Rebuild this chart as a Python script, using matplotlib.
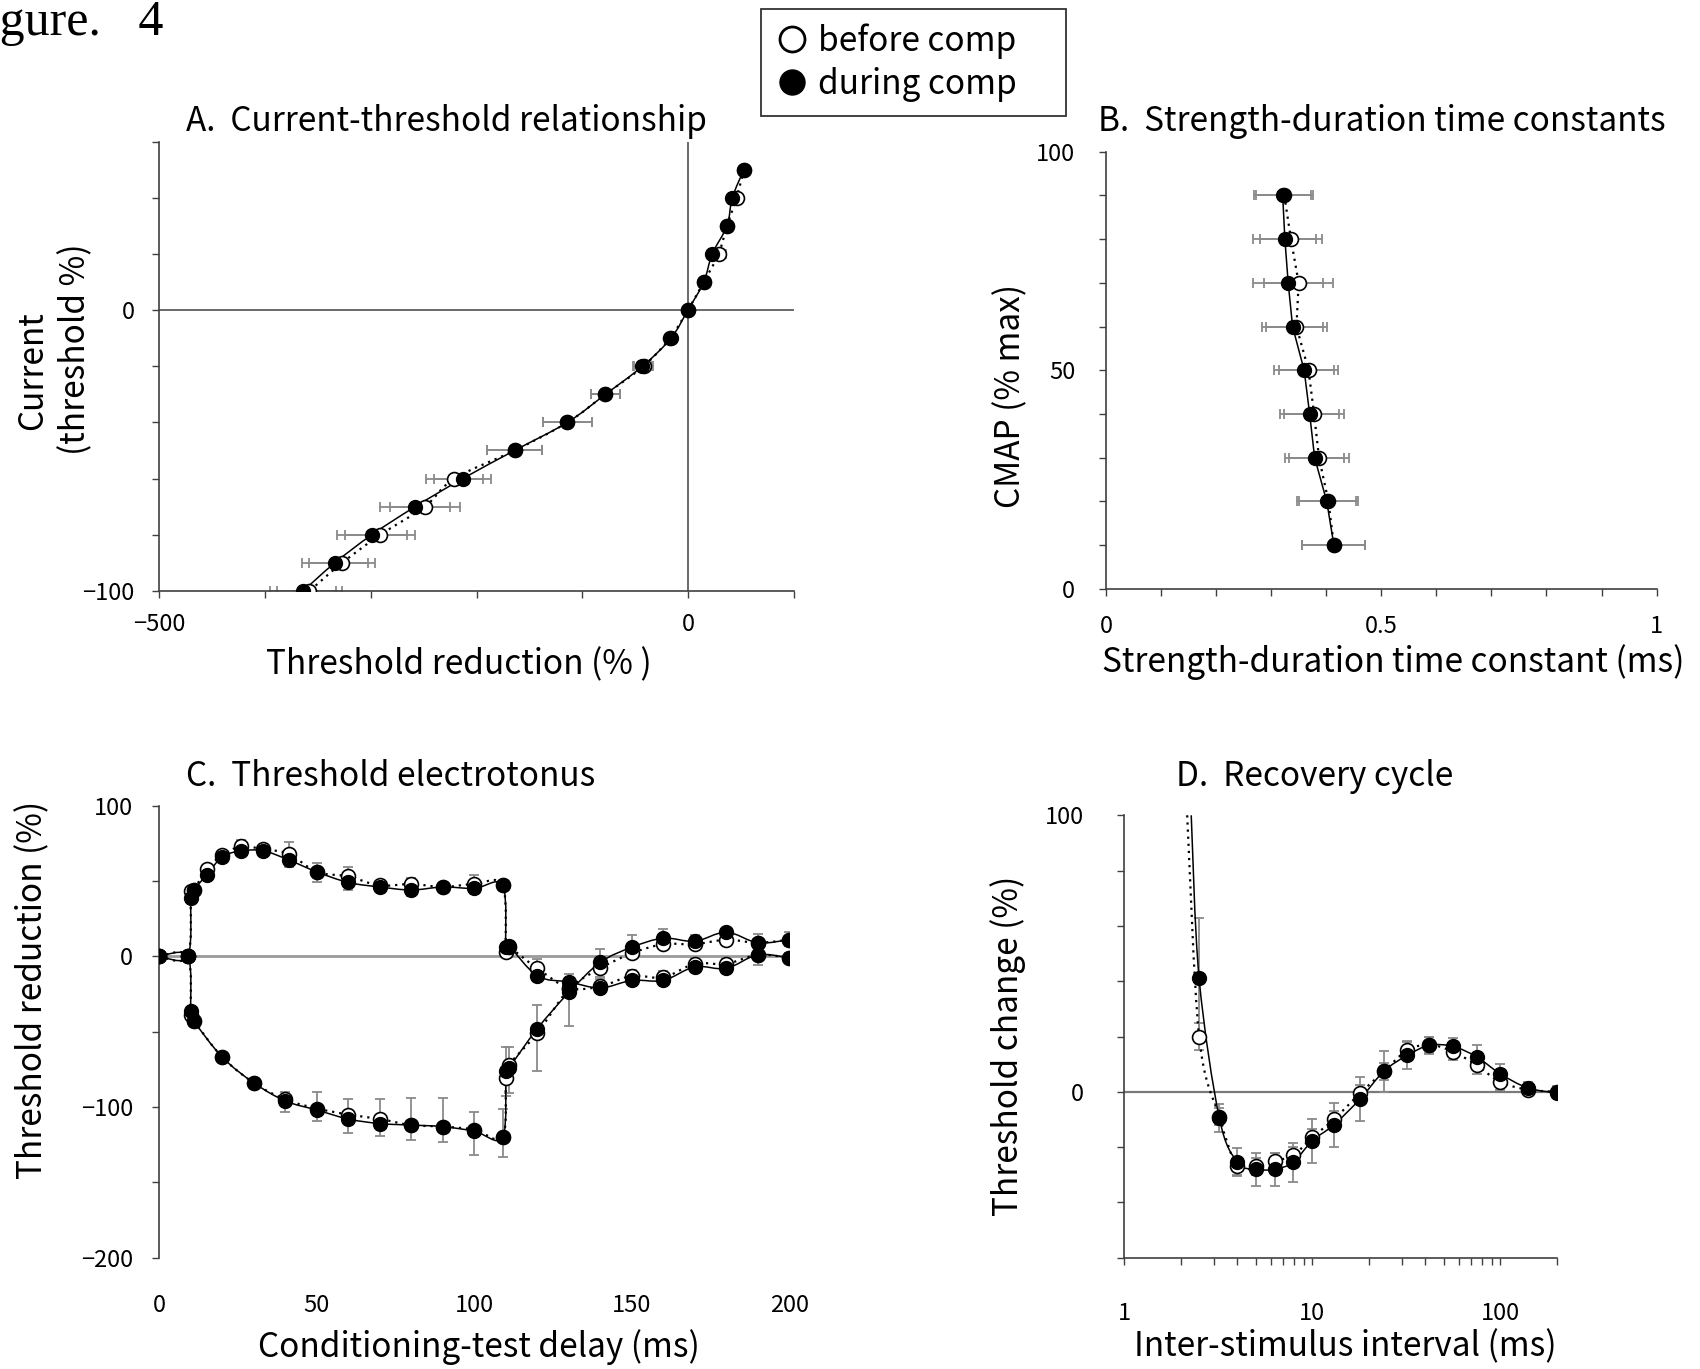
import numpy as np
import matplotlib
matplotlib.use("Agg")
import matplotlib.pyplot as plt
from matplotlib.path import Path
from matplotlib.patches import PathPatch
from matplotlib.lines import Line2D

plt.rcParams['font.family'] = ['Noto Sans CJK JP', 'DejaVu Sans']

# ---------------- data ----------------
# A. Current-threshold relationship
a_current = [50, 40, 30, 20, 10, 0, -10, -20, -30, -40, -50, -60, -70, -80, -90, -100]
a_before = [53, 46, 37, 29, 15, 0, -17, -42, -78, -114, -164, -221, -249, -291, -327, -358]
a_during = [53, 42, 37, 23, 15, 0, -16, -43, -78, -114, -164, -213, -258, -299, -334, -364]
a_before_err = [3, 5, 3, 7, 2, 2, 3, 9, 14, 23, 26, 27, 33, 33, 31, 31]
a_during_err = [2, 2, 2, 2, 2, 2, 3, 9, 14, 23, 26, 27, 33, 33, 31, 31]

# B. Strength-duration time constants
b_cmap = [90, 80, 70, 60, 50, 40, 30, 20, 10]
b_before = [0.324, 0.336, 0.350, 0.346, 0.368, 0.378, 0.387, 0.404, 0.414]
b_during = [0.321, 0.325, 0.331, 0.339, 0.360, 0.370, 0.379, 0.401, 0.414]
b_err = [0.052, 0.057, 0.063, 0.056, 0.054, 0.054, 0.054, 0.054, 0.057]

# C. Threshold electrotonus
c_dep_delay = [0, 9, 10, 11, 15, 20, 26, 33, 41, 50, 60, 70, 80, 90, 100, 109, 110, 111,
               120, 130, 140, 150, 160, 170, 180, 190, 200]
c_dep_before = [0, 0, 43, 44, 58, 67, 73, 71, 68, 56, 53, 47, 48, 46, 48, 47, 3, 6,
                -8, -21, -20, -13, -14, -5, -5, 1, -1]
c_dep_during = [0, 0, 39, 44, 54, 66, 70, 70, 64, 56, 49, 46, 44, 46, 45, 47, 6, 7,
                -13, -17, -21, -16, -16, -7, -8, 1, -1]
c_dep_before_up = [0, 0, 0, 3, 2, 2, 4, 2, 8, 6, 6, 3, 4, 2, 6, 2, 2, 2, 6, 5, 5, 4, 4, 4, 3, 3, 3]
c_dep_during_dn = [0, 0, 0, 0, 0, 0, 0, 0, 5, 7, 5, 2, 4, 2, 3, 2, 0, 0, 3, 3, 3, 3, 3, 3, 3, 7, 3]

c_hyp_delay = [0, 9, 10, 11, 20, 30, 40, 50, 60, 70, 80, 90, 100, 109, 110, 111,
               120, 130, 140, 150, 160, 170, 180, 190, 200]
c_hyp_before = [0, 0, -39, -43, -67, -84, -95, -101, -105, -108, -112, -113, -115, -120, -81, -72,
                -51, -22, -8, 2, 8, 8, 11, 9, 11]
c_hyp_during = [0, 0, -36, -43, -67, -84, -96, -102, -108, -111, -112, -113, -116, -120, -76, -74,
                -48, -24, -4, 6, 12, 10, 16, 9, 11]
c_hyp_before_up = [0, 0, 0, 0, 0, 0, 5, 11, 10, 13, 18, 19, 12, 19, 21, 12, 19, 10, 13, 12, 10, 6, 7, 6, 5]
c_hyp_during_dn = [0, 0, 0, 0, 0, 0, 7, 7, 9, 8, 10, 10, 16, 13, 17, 17, 28, 22, 10, 6, 5, 4, 4, 4, 4]

# D. Recovery cycle
d_isi = [2.5, 3.2, 4, 5, 6.3, 7.9, 10, 13, 18, 24, 32, 42, 56, 75, 100, 140, 200]
d_before = [20, -9, -27, -27, -25, -23, -16.5, -10, -0.5, 7.4, 15, 17, 14.5, 9.6, 3.5, 0.8, 0]
d_during = [41, -9.4, -25.5, -28, -28, -25.5, -17.7, -12, -2.5, 7.4, 13.2, 16.8, 16.4, 12.6, 6.5, 1.4, -0.4]
d_before_err = [5, 3, 3, 3, 3, 3, 3, 3, 3, 3, 3, 3, 3, 3, 3, 2, 2]
d_during_err = [22, 5, 5, 6, 6, 7, 8, 8, 8, 7.5, 5, 3, 3, 4.5, 3.6, 2, 2]
# where the fitted curves leave the top of the panel (ISI, value)
d_before_line_start = (2.16, 100)
d_during_line_start = (2.27, 100)

# tick labels
a_xticks = [-500, -400, -300, -200, -100, 0, 100]
a_xticklabels = ['\u2212500', '', '', '', '', '0', '']
a_yticks = [-100, -80, -60, -40, -20, 0, 20, 40, 60]
a_yticklabels = ['\u2212100', '', '', '', '', '0', '', '', '']
b_xticks = [0, 0.1, 0.2, 0.3, 0.4, 0.5, 0.6, 0.7, 0.8, 0.9, 1.0]
b_xticklabels = ['0', '', '', '', '', '0.5', '', '', '', '', '1']
b_yticks = [0, 10, 20, 30, 40, 50, 60, 70, 80, 90, 100]
b_yticklabels = ['0', '', '', '', '', '50', '', '', '', '', '100']
c_xticks = [0, 50, 100, 150, 200]
c_xticklabels = ['0', '50', '100', '150', '200']
c_yticks = [-200, -150, -100, -50, 0, 50, 100]
c_yticklabels = ['\u2212200', '', '\u2212100', '', '0', '', '100']
d_xticks = [1, 10, 100]
d_xticklabels = ['1', '10', '100']
d_yticks = [-60, -40, -20, 0, 20, 40, 60, 80, 100]
d_yticklabels = ['', '', '', '0', '', '', '', '', '100']

# ---------------- figure ----------------
W, H = 1700, 1369
fig = plt.figure(figsize=(W / 100, H / 100), dpi=100)

def axes_px(l, r, t, b):
    return fig.add_axes([l / W, 1 - b / H, (r - l) / W, (b - t) / H])

axA = axes_px(159.4, 793.6, 141.6, 590.9)
axB = axes_px(1105.9, 1656.6, 151.8, 588.7)
axC = axes_px(159.4, 789.3, 805.6, 1257.7)
axD = axes_px(1124.3, 1556.9, 815.3, 1257.7)

SPINE = '#404040'
ERR = '#8a8a8a'
TICKFS = 17
LABELFS = 24


def smooth_line(ax, x, y, logx=False, **kw):
    """Excel-like smoothed line (Catmull-Rom Bezier) through data points."""
    x = np.asarray(x, float)
    y = np.asarray(y, float)
    X = np.log10(x) if logx else x
    xl = ax.get_xlim()
    xl = (np.log10(xl[0]), np.log10(xl[1])) if logx else xl
    yl = ax.get_ylim()
    bb = ax.get_position()
    sx = bb.width * W / (xl[1] - xl[0])
    sy = bb.height * H / (yl[1] - yl[0])
    P = np.column_stack([X * sx, y * sy])
    n = len(P)
    verts = [P[0]]
    codes = [Path.MOVETO]
    for i in range(n - 1):
        p0 = P[max(i - 1, 0)]
        p1 = P[i]
        p2 = P[i + 1]
        p3 = P[min(i + 2, n - 1)]
        c1 = p1 + (p2 - p0) / 6.0
        c2 = p2 - (p3 - p1) / 6.0
        verts += [c1, c2, p2]
        codes += [Path.CURVE4] * 3
    V = np.array(verts)
    V[:, 0] /= sx
    V[:, 1] /= sy
    if logx:
        V[:, 0] = 10 ** V[:, 0]
    patch = PathPatch(Path(V, codes), fill=False, **kw)
    ax.add_patch(patch)
    return patch


def style_axes(ax):
    for s in ['top', 'right']:
        ax.spines[s].set_visible(False)
    for s in ['left', 'bottom']:
        ax.spines[s].set_color(SPINE)
        ax.spines[s].set_linewidth(1.2)
    ax.tick_params(direction='out', length=5, width=1.0, color=SPINE,
                   labelsize=TICKFS, labelcolor='black')


solid_kw = dict(color='black', lw=1.1, zorder=3)
dot_kw = dict(color='black', lw=1.6, linestyle=(0, (1, 2.2)), zorder=3)
open_kw = dict(marker='o', ms=10, mfc='white', mec='black', mew=1.2, ls='none', zorder=4)
fill_kw = dict(marker='o', ms=10, mfc='black', mec='black', mew=1.0, ls='none', zorder=5)
err_kw = dict(fmt='none', ecolor=ERR, elinewidth=1.3, capsize=3.5, capthick=1.3, zorder=2)

# ---------------- A ----------------
ax = axA
style_axes(ax)
ax.set_xlim(-500, 100)
ax.set_ylim(-100, 60)
ax.axhline(0, color='#505050', lw=1.2, zorder=1)
ax.axvline(0, color='#505050', lw=1.2, zorder=1)
ax.errorbar(a_before, a_current, xerr=a_before_err, **err_kw)
ax.errorbar(a_during, a_current, xerr=a_during_err, **err_kw)
smooth_line(ax, a_before, a_current, **dot_kw)
smooth_line(ax, a_during, a_current, **solid_kw)
ax.plot(a_before, a_current, **open_kw)
ax.plot(a_during, a_current, **fill_kw)
ax.set_xticks(a_xticks)
ax.set_xticklabels(a_xticklabels)
ax.set_yticks(a_yticks)
ax.set_yticklabels(a_yticklabels)
ax.tick_params(axis='x', pad=11)
ax.tick_params(axis='y', pad=13)

# ---------------- B ----------------
ax = axB
style_axes(ax)
ax.set_xlim(0, 1)
ax.set_ylim(0, 100)
ax.errorbar(b_before, b_cmap, xerr=b_err, **err_kw)
ax.errorbar(b_during, b_cmap, xerr=b_err, **err_kw)
ax.plot(b_before, b_cmap, **dot_kw)
ax.plot(b_during, b_cmap, **solid_kw)
ax.plot(b_before, b_cmap, **open_kw)
ax.plot(b_during, b_cmap, **fill_kw)
ax.set_xticks(b_xticks)
ax.set_xticklabels(b_xticklabels)
ax.set_yticks(b_yticks)
ax.set_yticklabels(b_yticklabels)
ax.tick_params(axis='x', pad=14)
ax.tick_params(axis='y', pad=17)

# ---------------- C ----------------
ax = axC
style_axes(ax)
ax.spines['bottom'].set_visible(False)
ax.set_xlim(0, 200)
ax.set_ylim(-200, 100)
ax.axhline(0, color='#9a9a9a', lw=2.0, zorder=1)
zeros = lambda n: [0] * n
ax.errorbar(c_dep_delay, c_dep_before, yerr=[zeros(len(c_dep_delay)), c_dep_before_up], **err_kw)
ax.errorbar(c_dep_delay, c_dep_during, yerr=[c_dep_during_dn, zeros(len(c_dep_delay))], **err_kw)
ax.errorbar(c_hyp_delay, c_hyp_before, yerr=[zeros(len(c_hyp_delay)), c_hyp_before_up], **err_kw)
ax.errorbar(c_hyp_delay, c_hyp_during, yerr=[c_hyp_during_dn, zeros(len(c_hyp_delay))], **err_kw)
smooth_line(ax, c_dep_delay, c_dep_before, **dot_kw)
smooth_line(ax, c_hyp_delay, c_hyp_before, **dot_kw)
smooth_line(ax, c_dep_delay, c_dep_during, **solid_kw)
smooth_line(ax, c_hyp_delay, c_hyp_during, **solid_kw)
ax.plot(c_dep_delay, c_dep_before, **open_kw)
ax.plot(c_hyp_delay, c_hyp_before, **open_kw)
ax.plot(c_dep_delay, c_dep_during, **fill_kw)
ax.plot(c_hyp_delay, c_hyp_during, **fill_kw)
ax.set_xticks(c_xticks)
ax.set_xticklabels(c_xticklabels)
ax.set_yticks(c_yticks)
ax.set_yticklabels(c_yticklabels)
ax.tick_params(axis='x', length=0, pad=26)
ax.tick_params(axis='y', pad=14)

# ---------------- D ----------------
ax = axD
style_axes(ax)
ax.set_xscale('log')
ax.set_xlim(1, 200)
ax.set_ylim(-60, 100)
ax.axhline(0, color='#7a7a7a', lw=1.6, zorder=1)
ax.errorbar(d_isi, d_before, yerr=d_before_err, **err_kw)
ax.errorbar(d_isi, d_during, yerr=d_during_err, **err_kw)
smooth_line(ax, [d_before_line_start[0]] + d_isi, [d_before_line_start[1]] + d_before,
            logx=True, **dot_kw)
smooth_line(ax, [d_during_line_start[0]] + d_isi, [d_during_line_start[1]] + d_during,
            logx=True, **solid_kw)
ax.plot(d_isi, d_before, **open_kw)
ax.plot(d_isi, d_during, **fill_kw)
ax.set_xticks(d_xticks)
ax.set_xticklabels(d_xticklabels)
ax.xaxis.set_minor_locator(matplotlib.ticker.LogLocator(base=10, subs=np.arange(2, 10)))
ax.xaxis.set_minor_formatter(matplotlib.ticker.NullFormatter())
ax.tick_params(axis='x', which='minor', direction='out', length=5, width=1.0, color=SPINE)
ax.set_yticks(d_yticks)
ax.set_yticklabels(d_yticklabels)
ax.tick_params(axis='x', which='major', pad=27)
ax.tick_params(axis='y', pad=24)

# ---------------- texts ----------------
def ftext(x, y, s, **kw):
    return fig.text(x / W, 1 - y / H, s, **kw)

ftext(163, 35, 'Figure.   4', ha='right', va='baseline', fontsize=36,
      family=['Liberation Serif'])

ftext(186.5, 121.5, 'A.  Current-threshold relationship', ha='left', va='center', fontsize=LABELFS)
ftext(1098.3, 121.5, 'B.  Strength-duration time constants', ha='left', va='center', fontsize=LABELFS)
ftext(186.5, 776.5, 'C.  Threshold electrotonus', ha='left', va='center', fontsize=LABELFS)
ftext(1176.4, 776.5, 'D.  Recovery cycle', ha='left', va='center', fontsize=LABELFS)

ftext(458.6, 664.5, 'Threshold reduction (% )', ha='center', va='center', fontsize=LABELFS)
ftext(32.5, 371, 'Current', ha='center', va='center', rotation=90, fontsize=LABELFS)
ftext(76, 349, '(threshold %)', ha='center', va='center', rotation=90, fontsize=LABELFS)

ftext(1393, 662, 'Strength-duration time constant (ms)', ha='center', va='center', fontsize=LABELFS)
ftext(1010.5, 396, 'CMAP (% max)', ha='center', va='center', rotation=90, fontsize=LABELFS)

ftext(479, 1347, 'Conditioning-test delay (ms)', ha='center', va='center', fontsize=LABELFS)
ftext(32.5, 990, 'Threshold reduction (%)', ha='center', va='center', rotation=90, fontsize=LABELFS)

ftext(1345.5, 1347, 'Inter-stimulus interval (ms)', ha='center', va='center', fontsize=LABELFS)
ftext(1008, 1046, 'Threshold change (%)', ha='center', va='center', rotation=90, fontsize=LABELFS)

# ---------------- legend ----------------
handles = [Line2D([], [], marker='o', ls='none', ms=18, mfc='white', mec='black', mew=2.0),
           Line2D([], [], marker='o', ls='none', ms=18, mfc='black', mec='black')]
leg = fig.legend(handles, ['before comp', 'during comp'], loc='upper left',
                 bbox_to_anchor=(761 / W, 1 - 117 / H, 305 / W, 108 / H), mode='expand',
                 fontsize=LABELFS, frameon=True,
                 fancybox=False, edgecolor='black', borderpad=0.42, handletextpad=0.3,
                 labelspacing=0.25, handlelength=1.0, borderaxespad=0)
leg.get_frame().set_linewidth(1.3)

fig.savefig('out.png', dpi=100)
